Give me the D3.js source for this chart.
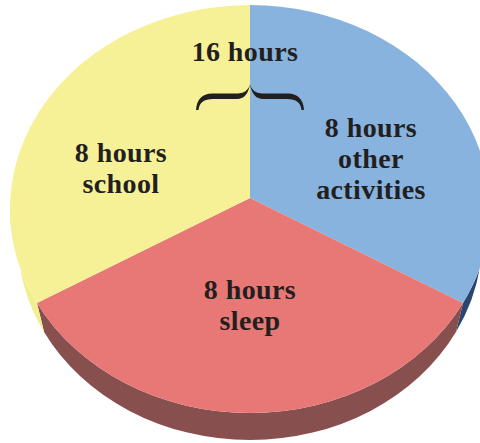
<!DOCTYPE html>
<html>
    <head>
        <meta charset="utf-8">
        <title>How the day is spent</title>
        <script src="https://cdn.jsdelivr.net/npm/d3@7"></script>
        <style>
            body { margin: 0; background: #fff; }
            text { font-family: "Liberation Serif", "DejaVu Serif", serif; font-weight: bold; fill: #231f20; letter-spacing: 0.4px; }
        </style>
    </head>
    <body>
        <svg width="480" height="443" id="mainsvg"></svg>
        <script>
            // data
            const activities = ['other activities', 'sleep', 'school']
            const hours = [8, 8, 8]
            const labelLines = [['8 hours', 'other', 'activities'], ['8 hours', 'sleep'], ['8 hours', 'school']]
            const braceLabel = '16 hours'

            // colours
            const topColor = {'other activities': '#88b3de', 'sleep': '#e87876', 'school': '#f6f196'}
            const sideColor = {'other activities': '#2c4672', 'sleep': '#87504f', 'school': '#f3ee8e'}

            const svg = d3.select('#mainsvg')

            // tilted pie geometry: top ellipse and a slightly smaller bottom ellipse (perspective)
            const cx = 250, cy = 209, rx = 240, ry = 204
            const cy2 = 240, rx2 = 232, ry2 = 200
            const vx = 250, vy = 198   // apex of the slices

            // small perspective warp of the pie angle
            const warp = t => t + 0.052 * Math.sin(2 * t)
            const pt = a => [cx + rx * Math.sin(warp(a)), cy - ry * Math.cos(warp(a))]
            const pb = a => [cx + rx2 * Math.sin(warp(a)), cy2 - ry2 * Math.cos(warp(a))]

            const pie = d3.pie().sort(null).value(d => d.v)
            const arcs = pie(activities.map((k, i) => ({k, v: hours[i]})))

            const g = svg.append('g')

            // side walls (front half only, angles PI/2 .. 3PI/2)
            arcs.forEach(d => {
                const a0 = Math.max(d.startAngle, Math.PI / 2)
                const a1 = Math.min(d.endAngle, Math.PI * 1.5)
                if (a1 <= a0) return
                g.append('path')
                    .attr('d', `M${pt(a0)}A${rx},${ry} 0 0 1 ${pt(a1)}L${pb(a1)}A${rx2},${ry2} 0 0 0 ${pb(a0)}Z`)
                    .attr('fill', sideColor[d.data.k])
            })

            // top faces
            g.selectAll('path.slice').data(arcs).join('path')
                .attr('class', 'slice')
                .attr('d', d => {
                    const large = d.endAngle - d.startAngle > Math.PI ? 1 : 0
                    return `M${vx},${vy}L${pt(d.startAngle)}A${rx},${ry} 0 ${large} 1 ${pt(d.endAngle)}Z`
                })
                .attr('fill', d => topColor[d.data.k])

            // labels
            const labelPos = {'other activities': [371, 137], 'sleep': [250, 299], 'school': [121, 162]}
            const lineH = 31
            arcs.forEach((d, i) => {
                const [x, y] = labelPos[d.data.k]
                const t = g.append('text')
                    .attr('text-anchor', 'middle')
                    .attr('font-size', 28)
                labelLines[i].forEach((s, j) => {
                    t.append('tspan').attr('x', x).attr('y', y + j * lineH).text(s)
                })
            })

            // brace over the two upper slices
            const bx = 250, bw = 54, bTop = 84, bMid = 96.5, bEnd = 110
            const half = s => {
                const X = dx => bx + s * dx
                return `M${X(-bw)},${bEnd}` +
                    `Q${X(-bw + 1)},${bMid - 2.5} ${X(-bw + 16)},${bMid - 3}` +
                    `L${X(-12)},${bMid - 3}` +
                    `Q${X(-2)},${bMid - 3.5} ${X(0)},${bTop}` +
                    `Q${X(-2.5)},${bMid + 2.5} ${X(-13)},${bMid + 2.5}` +
                    `L${X(-bw + 17)},${bMid + 2.5}` +
                    `Q${X(-bw + 3.5)},${bMid + 2.5} ${X(-bw + 2.5)},${bEnd}Z`
            }
            g.append('path').attr('d', half(1) + half(-1)).attr('fill', '#231f20')

            g.append('text')
                .attr('x', 245).attr('y', 61)
                .attr('text-anchor', 'middle')
                .attr('font-size', 28)
                .text(braceLabel)
        </script>
    </body>
</html>
